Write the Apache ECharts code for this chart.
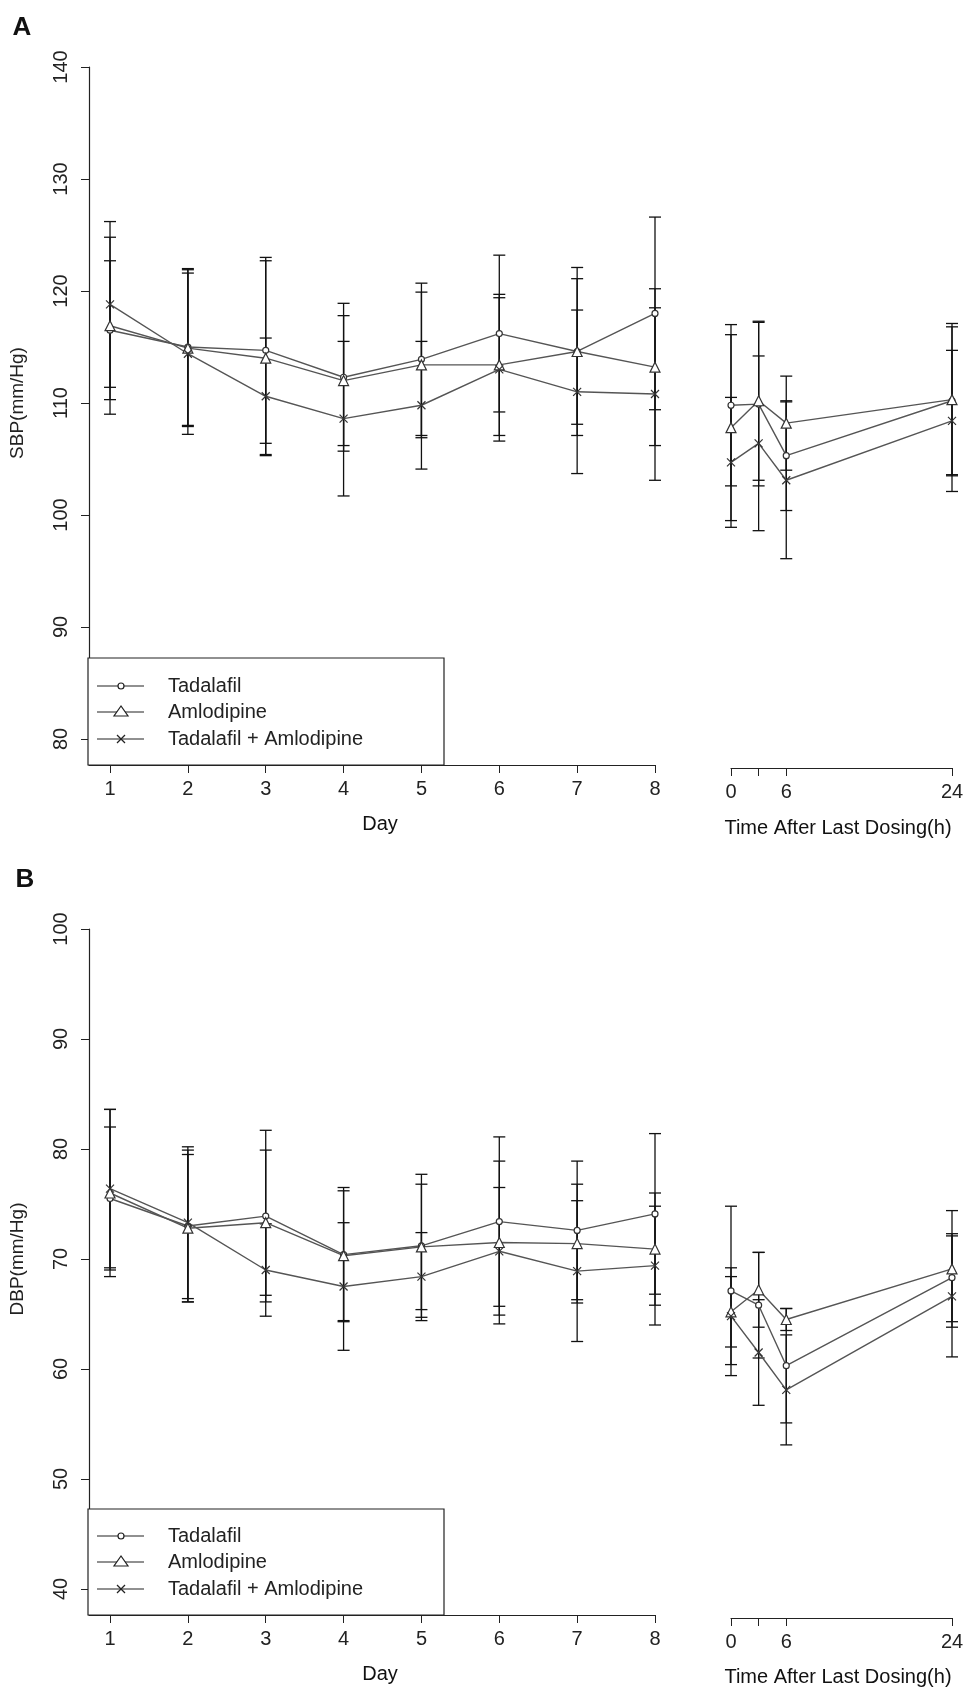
<!DOCTYPE html>
<html>
<head>
<meta charset="utf-8">
<script src="https://cdn.jsdelivr.net/npm/echarts@6/dist/echarts.min.js"></script>
<style>
  html, body { margin: 0; padding: 0; background: #fff; }
  #chart { width: 978px; height: 1689px; }
</style>
</head>
<body>
<div id="chart"></div>
<script>
// Group names
const groups = ["Tadalafil", "Amlodipine", "Tadalafil + Amlodipine"];
const days = [1, 2, 3, 4, 5, 6, 7, 8];
const hours = [0, 3, 6, 24];

// SBP by day: mean and SD
const sbpDayMean = [
    [116.5, 115.0, 114.7, 112.3, 113.9, 116.2, 114.6, 118.0],
    [116.9, 114.9, 114.0, 112.0, 113.4, 113.4, 114.6, 113.2],
    [118.8, 114.4, 110.6, 108.6, 109.8, 113.0, 111.0, 110.8]
];
const sbpDaySd = [
    [6.2, 7.0, 8.3, 6.6, 6.8, 7.0, 7.5, 8.6],
    [7.9, 7.0, 8.7, 5.8, 6.5, 6.3, 6.5, 7.0],
    [7.4, 7.2, 5.2, 6.9, 5.7, 6.4, 7.3, 7.7]
];
// SBP after last dose (0, 3, 6, 24 h)
const sbpHourMean = [
    [109.8, 109.9, 105.3, 110.2],
    [107.8, 110.2, 108.2, 110.3],
    [104.7, 106.4, 103.1, 108.4]
];
const sbpHourSd = [
    [7.2, 7.3, 4.9, 6.6],
    [8.3, 7.1, 4.2, 6.8],
    [5.8, 7.8, 7.0, 6.3]
];

// DBP by day
const dbpDayMean = [
    [75.5, 73.0, 73.9, 70.4, 71.2, 73.4, 72.6, 74.1],
    [76.0, 72.8, 73.3, 70.3, 71.1, 71.5, 71.4, 70.9],
    [76.4, 73.3, 69.0, 67.5, 68.4, 70.7, 68.9, 69.4]
];
const dbpDaySd = [
    [6.5, 6.9, 7.8, 6.1, 6.5, 7.7, 6.3, 7.3],
    [7.6, 6.7, 6.6, 5.9, 5.7, 7.4, 5.4, 5.1],
    [7.2, 6.9, 4.2, 5.8, 4.0, 5.8, 6.4, 5.4]
];
const dbpHourMean = [
    [67.1, 65.8, 60.3, 68.3],
    [65.2, 67.2, 64.5, 69.1],
    [64.8, 61.5, 58.1, 66.6]
];
const dbpHourSd = [
    [7.7, 4.8, 5.2, 4.0],
    [3.2, 3.4, 1.0, 5.3],
    [4.4, 4.8, 5.0, 5.5]
];

const symbols = [
    'circle',
    'triangle',
    'path://M0,0L10,10M10,0L0,10'
];
const symbolSizes = [6, 10, 8];
const FONT = '"Liberation Sans", Arial, sans-serif';

const chart = echarts.init(document.getElementById('chart'));

const grids = [
    { left: 88, top: 67, width: 567, height: 672 },     // A days
    { left: 731, top: 67, width: 221, height: 672 },    // A hours
    { left: 88, top: 929, width: 567, height: 660 },    // B days
    { left: 731, top: 929, width: 221, height: 660 }    // B hours
];

const labelStyle = { fontFamily: FONT, fontSize: 20, color: '#222' };
const axisLine = { show: true, lineStyle: { color: '#222', width: 1.2 } };

function xAxis(gi, isHour, offset) {
    const ticks = isHour ? hours : days;
    return {
        gridIndex: gi, type: 'value', offset: offset,
        min: isHour ? 0 : 0.73, max: isHour ? 24 : 8,
        axisLabel: Object.assign({ customValues: isHour ? [0, 6, 24] : days, margin: 14 }, labelStyle),
        axisTick: { customValues: ticks, length: 8, lineStyle: { color: '#222' } },
        axisLine: axisLine, splitLine: { show: false }
    };
}
const xAxes = [xAxis(0, false, 26), xAxis(1, true, 29), xAxis(2, false, 26), xAxis(3, true, 29)];

function yAxis(gi, min, max, name, show) {
    return {
        gridIndex: gi, type: 'value', min: min, max: max, interval: 10, show: show,
        name: name, nameLocation: 'middle', nameGap: 62, nameRotate: 90,
        nameTextStyle: { fontFamily: FONT, fontSize: 19, color: '#222' },
        axisLabel: Object.assign({ rotate: 90, margin: 18 }, labelStyle),
        axisTick: { show: true, length: 8, lineStyle: { color: '#222' } },
        axisLine: axisLine, splitLine: { show: false }
    };
}
const yAxes = [
    yAxis(0, 80, 140, 'SBP(mm/Hg)', true),
    yAxis(1, 80, 140, '', false),
    yAxis(2, 40, 100, 'DBP(mm/Hg)', true),
    yAxis(3, 40, 100, '', false)
];

function errorSeries(axis, xs, mean, sd) {
    return {
        type: 'custom', xAxisIndex: axis, yAxisIndex: axis, silent: true, z: 1,
        data: xs.map((x, i) => [x, mean[i] - sd[i], mean[i] + sd[i]]),
        renderItem: function (params, api) {
            const lo = api.coord([api.value(0), api.value(1)]);
            const hi = api.coord([api.value(0), api.value(2)]);
            const w = 6;
            const st = { stroke: '#111', lineWidth: 1.3 };
            return {
                type: 'group',
                children: [
                    { type: 'line', shape: { x1: lo[0], y1: lo[1], x2: hi[0], y2: hi[1] }, style: st },
                    { type: 'line', shape: { x1: lo[0] - w, y1: lo[1], x2: lo[0] + w, y2: lo[1] }, style: st },
                    { type: 'line', shape: { x1: hi[0] - w, y1: hi[1], x2: hi[0] + w, y2: hi[1] }, style: st }
                ]
            };
        }
    };
}

function lineSeries(axis, xs, mean, g) {
    return {
        type: 'line', xAxisIndex: axis, yAxisIndex: axis, z: 2,
        data: xs.map((x, i) => [x, mean[i]]),
        symbol: symbols[g], symbolSize: symbolSizes[g],
        lineStyle: { color: '#555', width: 1.4 },
        itemStyle: { color: '#fff', borderColor: '#333', borderWidth: 1.2 }
    };
}

const panels = [
    [0, days, sbpDayMean, sbpDaySd],
    [1, hours, sbpHourMean, sbpHourSd],
    [2, days, dbpDayMean, dbpDaySd],
    [3, hours, dbpHourMean, dbpHourSd]
];
const series = [];
panels.forEach(([axis, xs, means, sds]) => {
    for (let g = 0; g < 3; g++) {
        series.push(errorSeries(axis, xs, means[g], sds[g]));
        series.push(lineSeries(axis, xs, means[g], g));
    }
});

// Legend box drawn like the original
function legendBox(top, rowYs) {
    const kids = [{
        type: 'rect', shape: { x: 88, y: top, width: 356, height: rowYs[2] - top + 26 },
        style: { fill: '#fff', stroke: '#222', lineWidth: 1.2 }, z: 10
    }];
    groups.forEach((name, g) => {
        const y = rowYs[g];
        kids.push({ type: 'line', shape: { x1: 97, y1: y, x2: 144, y2: y },
            style: { stroke: '#222', lineWidth: 1.2 }, z: 11 });
        let sym;
        if (g === 0) sym = { type: 'circle', shape: { cx: 121, cy: y, r: 3 } };
        else if (g === 1) sym = { type: 'polygon', shape: { points: [[121, y - 6], [114, y + 4], [128, y + 4]] } };
        else sym = { type: 'polyline', shape: { points: [[117, y - 4], [125, y + 4]] } };
        sym.style = { fill: '#fff', stroke: '#222', lineWidth: 1.2 };
        sym.z = 12;
        kids.push(sym);
        if (g === 2) kids.push({ type: 'polyline', shape: { points: [[125, y - 4], [117, y + 4]] },
            style: { fill: null, stroke: '#222', lineWidth: 1.2 }, z: 12 });
        kids.push({ type: 'text', x: 168, y: y, z: 12,
            style: { text: name, fontFamily: FONT, fontSize: 20, fill: '#222', verticalAlign: 'middle' } });
    });
    return kids;
}

function txt(x, y, s, size, bold, align) {
    return { type: 'text', x: x, y: y, z: 12,
        style: { text: s, fontFamily: FONT, fontSize: size, fontWeight: bold ? 'bold' : 'normal',
                 fill: '#111', align: align || 'center', verticalAlign: 'middle' } };
}

chart.setOption({
    animation: false,
    backgroundColor: '#fff',
    grid: grids,
    xAxis: xAxes,
    yAxis: yAxes,
    series: series,
    graphic: [].concat(
        legendBox(658, [686, 712, 739]),
        legendBox(1509, [1536, 1562, 1589]),
        [
            txt(22, 28, 'A', 26, true),
            txt(25, 880, 'B', 26, true),
            txt(380, 824, 'Day', 20),
            txt(838, 828, 'Time After Last Dosing(h)', 20),
            txt(380, 1674, 'Day', 20),
            txt(838, 1677, 'Time After Last Dosing(h)', 20)
        ]
    )
});
</script>
</body>
</html>
